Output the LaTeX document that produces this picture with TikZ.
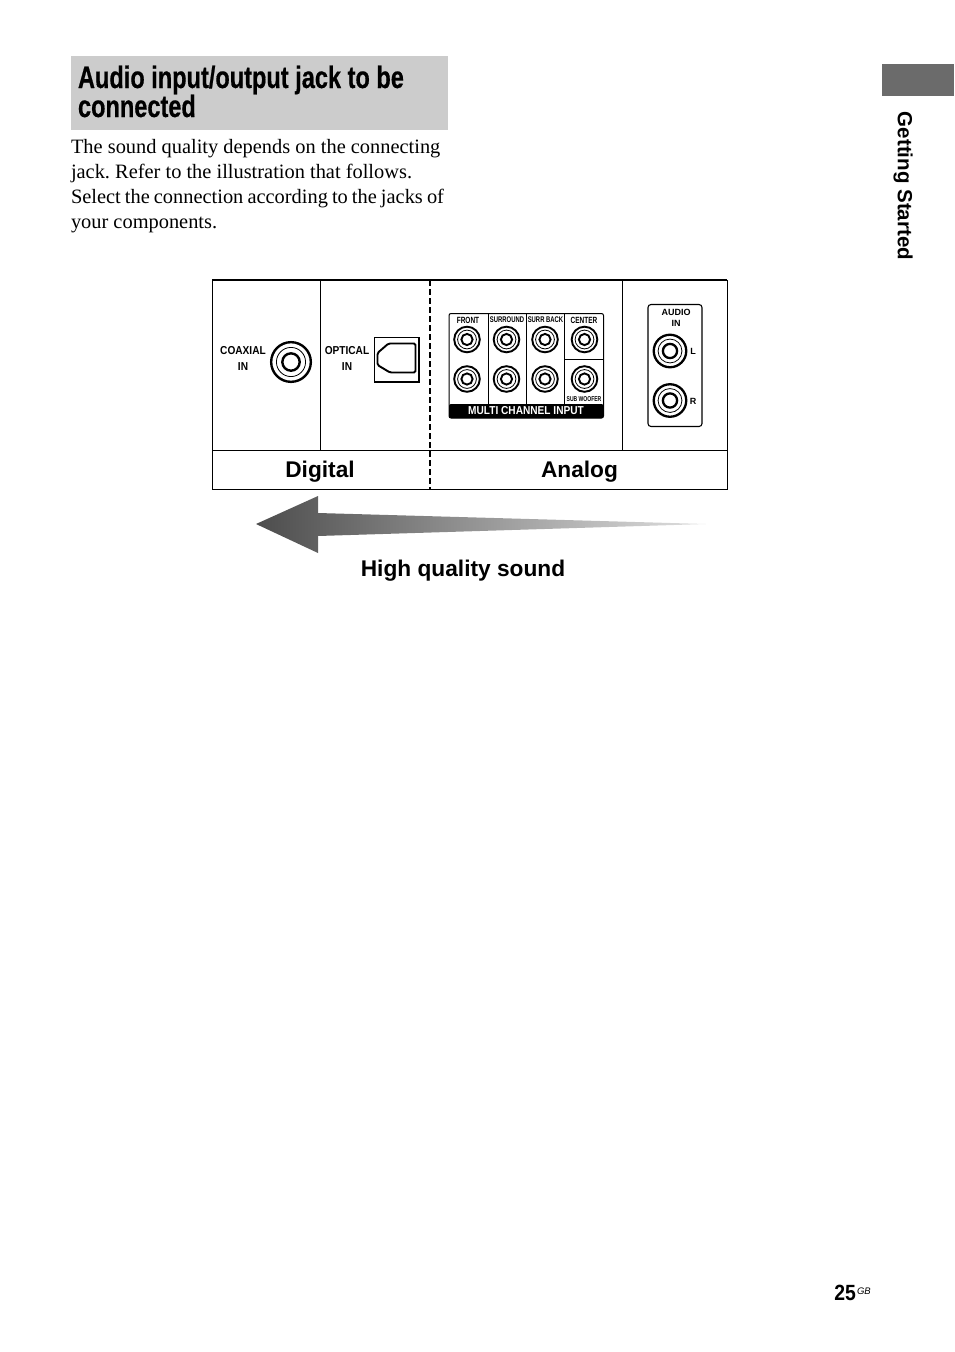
\documentclass[tikz,border=0pt]{standalone}
\usepackage{fontspec}
\setmainfont{Liberation Serif}
\setsansfont{Liberation Sans}
\newfontfamily\narrowfont[FakeStretch=0.72]{Liberation Sans}
\newfontfamily\labelfont[FakeStretch=0.88]{Liberation Sans}
\newfontfamily\headfont[FakeStretch=0.76,FakeBold=0.5]{Liberation Sans Bold}
\usetikzlibrary{positioning}

\begin{document}
\begin{tikzpicture}[
    x=1pt, y=-1pt,
    every node/.style={inner sep=0pt, outer sep=0pt},
    rule/.style={draw=black, line width=1pt},
    jacktext/.style={font=\labelfont\bfseries\fontsize{11.5}{11.5}\selectfont},
    paneltext/.style={font=\narrowfont\bfseries\fontsize{9}{9}\selectfont},
    smalltext/.style={font=\narrowfont\bfseries\fontsize{8.2}{8.2}\selectfont},
    audiotext/.style={font=\sffamily\bfseries\fontsize{9}{9}\selectfont},
    bigtext/.style={font=\sffamily\bfseries\fontsize{22.7}{22.7}\selectfont},
    rcajack/.pic={
      \draw (0,0) circle[radius=12.8];
      \draw[line width=.8pt] (0,0) circle[radius=9.4];
      \draw (0,0) circle[radius=5.6];
    }
  ]
  \useasboundingbox (0,0) rectangle (954,1352);

  % heading and text
  \fill[black!20] (71,56) rectangle (448,130);
  \node [anchor=base west, align=left, font=\headfont\fontsize{31}{29}\selectfont] (heading) at (78,117)
    {Audio input/output jack to be \\ connected};
  \node [anchor=north west, align=left, font=\fontsize{20.4}{25.1}\selectfont\frenchspacing] (body) at (71,139) {
      The sound quality depends on the connecting \\
      jack. Refer to the illustration that follows. \\
      {\spaceskip=.2em Select the connection according to the jacks of} \\
      your components.
    };

  % side tab
  \fill[black!58] (882,64) rectangle (954,96);
  \node [rotate=-90, font=\sffamily\bfseries\fontsize{20.5}{20.5}\selectfont] (tab) at (903,186) {Getting Started};

  % table
  \draw[rule] (212,280) rectangle (727,489);
  \draw[rule, line width=1.6pt] (212,280) -- (727,280);
  \draw[rule] (212,450) -- (727,450);
  \draw[rule] (320.5,280) -- (320.5,450);
  \draw[rule] (622.5,280) -- (622.5,450);
  \draw[black, line width=1.3pt, dash pattern=on 6pt off 3pt] (430,280) -- (430,489);
  \node [bigtext] (digital) at (320,472) {Digital};
  \node [bigtext] (analog) at (579.5,472) {Analog};

  % coaxial and optical
  \node [jacktext] (coaxial) at (243,351) {COAXIAL};
  \node [jacktext] (coaxialin) at (243,367) {IN};
  \pic [scale=1.55, line width=2.4pt] at (291,362) {rcajack};
  \node [jacktext] (optical) at (347,351) {OPTICAL};
  \node [jacktext] (opticalin) at (347,367) {IN};
  \draw[line width=1.9pt] (374.5,337.5) rectangle (419,382);
  \draw[line width=1.9pt, rounded corners=1.5pt] (388.5,343.5) -- (415.5,343.5) -- (415.5,372.5)
    -- (390,372.5) -- (377.5,365) -- (377.5,353) -- cycle;

  % multi channel panel
  \draw[line width=1pt, rounded corners=2pt] (449,313.5) rectangle (603.5,418);
  \fill[black, rounded corners=2pt] (449,404) rectangle (603.5,418);
  \foreach \xpos in {488,526,564} {
    \draw[line width=1pt] (\xpos,313.5) -- (\xpos,404);
  }
  \draw[line width=1pt] (564,359.5) -- (603.5,359.5);
  \foreach \xpos in {467,506.5,545,584.5} {
    \pic [line width=1.9pt] at (\xpos,339.5) {rcajack};
    \pic [line width=1.9pt] at (\xpos,379) {rcajack};
  }
  \node [paneltext] (front) at (468,320) {FRONT};
  \node [smalltext] (surround) at (507,320) {SURROUND};
  \node [smalltext] (surrback) at (545.5,320) {SURR BACK};
  \node [paneltext] (center) at (584,320) {CENTER};
  \node [smalltext, font=\narrowfont\bfseries\fontsize{7}{7}\selectfont] (subwoofer) at (584,399) {SUB WOOFER};
  \node [jacktext, text=white] (multi) at (526,411) {MULTI CHANNEL INPUT};

  % audio in panel
  \draw[line width=1.1pt, rounded corners=3pt] (648,304.5) rectangle (702,426.5);
  \node [audiotext] (audio) at (676,312.5) {AUDIO};
  \node [audiotext] (audioin) at (676,323) {IN};
  \pic [scale=1.27, line width=2.3pt] at (670,351) {rcajack};
  \pic [scale=1.27, line width=2.3pt] at (670,400.5) {rcajack};
  \node [audiotext] (left) at (693,351) {L};
  \node [audiotext] (right) at (693,401) {R};

  % quality arrow
  \path[left color=black!70, right color=black!12] (256,524) -- (318,496) -- (318,513)
    -- (706,524) -- (318,536) -- (318,553) -- cycle;
  \node [bigtext] (quality) at (463,571) {High quality sound};

  % page number
  \node [anchor=base east, font=\labelfont\bfseries\fontsize{22}{22}\selectfont] (page) at (856,1300) {25};
  \node [anchor=base west, font=\sffamily\itshape\fontsize{9.5}{9.5}\selectfont] (gb) at (857,1294) {GB};
\end{tikzpicture}
\end{document}
